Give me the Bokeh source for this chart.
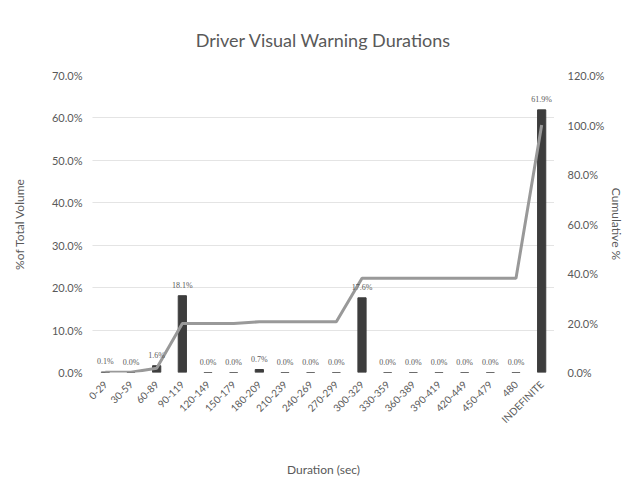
import math
from bokeh.plotting import figure
from bokeh.models import (ColumnDataSource, LinearAxis, Range1d, FactorRange,
                          PrintfTickFormatter, FixedTicker, Title, LabelSet)
from bokeh.embed import file_html
from bokeh.resources import INLINE

categories = ["0-29", "30-59", "60-89", "90-119", "120-149", "150-179", "180-209",
              "210-239", "240-269", "270-299", "300-329", "330-359", "360-389",
              "390-419", "420-449", "450-479", "480", "INDEFINITE"]
pct_volume = [0.1, 0.0, 1.6, 18.1, 0.0, 0.0, 0.7, 0.0, 0.0, 0.0, 17.6,
              0.0, 0.0, 0.0, 0.0, 0.0, 0.0, 61.9]
cumulative = [0.1, 0.1, 1.7, 19.8, 19.8, 19.8, 20.5, 20.5, 20.5, 20.5, 38.1,
              38.1, 38.1, 38.1, 38.1, 38.1, 38.1, 100.0]
left_ticks = [0, 10, 20, 30, 40, 50, 60, 70]
right_ticks = [0, 20, 40, 60, 80, 100, 120]

FONT = "Lato"
TXT = "#595959"

src = ColumnDataSource(dict(cat=categories, pct=pct_volume, cum=cumulative,
                            lbl=["%.1f%%" % v for v in pct_volume]))

p = figure(width=627, height=487, x_range=FactorRange(*categories),
           y_range=Range1d(0, 70), output_backend="svg", toolbar_location=None,
           min_border_left=92, min_border_right=60, min_border_top=75,
           min_border_bottom=115)
p.extra_y_ranges = {"cum": Range1d(0, 120)}

p.add_layout(Title(text="Driver Visual Warning Durations", align="center",
                   text_font=FONT, text_font_size="18px", text_color=TXT,
                   text_font_style="normal", standoff=50, offset=-4), "above")

p.vbar(x="cat", top="pct", width=0.32, source=src, color="#3d3d3d")
p.line(x="cat", y="cum", source=src, y_range_name="cum", line_color="#999999",
       line_width=3)

labels = LabelSet(x="cat", y="pct", text="lbl", source=src, y_offset=6,
                  text_align="center", text_baseline="bottom", text_font=FONT,
                  text_font_size="8px", text_color=TXT)
p.add_layout(labels)

ax_r = LinearAxis(y_range_name="cum", ticker=FixedTicker(ticks=right_ticks),
                  formatter=PrintfTickFormatter(format="%.1f%%"),
                  axis_label="Cumulative %")
p.add_layout(ax_r, "right")

for ax in p.yaxis:
    ax.axis_line_color = None
    ax.major_tick_line_color = None
    ax.minor_tick_line_color = None
    ax.major_label_text_font = FONT
    ax.major_label_text_font_size = "11px"
    ax.major_label_text_color = TXT
    ax.axis_label_text_font = FONT
    ax.axis_label_text_font_size = "12px"
    ax.axis_label_text_font_style = "normal"
    ax.axis_label_text_color = TXT

p.yaxis[0].ticker = FixedTicker(ticks=left_ticks)
p.yaxis[0].formatter = PrintfTickFormatter(format="%.1f%%")
p.yaxis[0].axis_label = "%of Total Volume"
p.yaxis[0].major_label_standoff = 4
p.yaxis[0].axis_label_standoff = 22
ax_r.major_label_standoff = 7
ax_r.axis_label_standoff = 2

xa = p.xaxis[0]
xa.axis_line_color = None
xa.major_tick_line_color = None
xa.major_label_orientation = math.pi / 4
xa.major_label_text_font = FONT
xa.major_label_text_font_size = "10px"
xa.major_label_text_color = TXT
xa.major_label_standoff = 4
xa.axis_label = "Duration (sec)"
xa.axis_label_text_font = FONT
xa.axis_label_text_font_size = "12px"
xa.axis_label_text_font_style = "normal"
xa.axis_label_text_color = TXT
xa.axis_label_standoff = 30

p.xgrid.grid_line_color = None
p.ygrid.grid_line_color = "#c8c8c8"
p.ygrid.grid_line_dash = "1 1"
p.ygrid.ticker = FixedTicker(ticks=left_ticks)
p.outline_line_color = None

open("out.html", "w").write(file_html(p, INLINE))
